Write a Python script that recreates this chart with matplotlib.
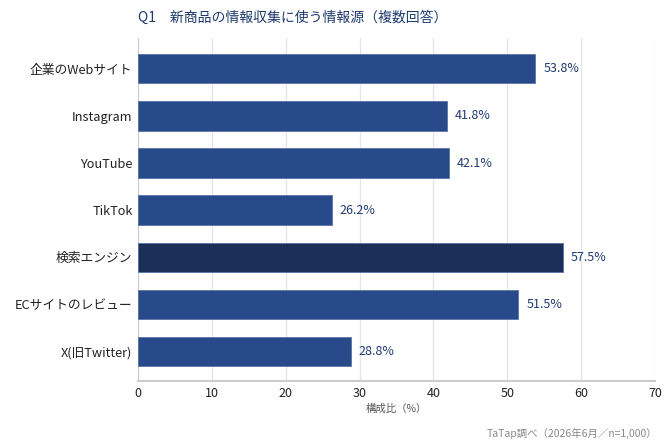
import matplotlib
matplotlib.use("Agg")
import matplotlib.pyplot as plt

plt.rcParams['font.family'] = ['Noto Sans CJK JP', 'DejaVu Sans']

categories = ["企業のWebサイト", "Instagram", "YouTube", "TikTok",
              "検索エンジン", "ECサイトのレビュー", "X(旧Twitter)"]
values = [53.8, 41.8, 42.1, 26.2, 57.5, 51.5, 28.8]
highlight = "検索エンジン"
x_ticks = [0, 10, 20, 30, 40, 50, 60, 70]

navy = "#284a8a"
dark_navy = "#1c2f58"
text_navy = "#1f3a6e"

fig = plt.figure(figsize=(6.72, 4.47), dpi=100)
ax = fig.add_axes([0.2054, 0.1477, 0.7693, 0.7673])

colors = [dark_navy if c == highlight else navy for c in categories]
y = list(range(len(categories)))
bars = ax.barh(y, values, height=0.625, color=colors,
               edgecolor="#5873a6", linewidth=0.6, zorder=3)

for b, v in zip(bars, values):
    ax.text(b.get_width() + 1.1, b.get_y() + b.get_height() / 2, f"{v}%",
            va="center", ha="left", fontsize=9, color=text_navy)

ax.set_ylim(len(categories) - 0.38, -0.65)
ax.set_xlim(0, 70)
ax.set_yticks(y)
ax.set_yticklabels(categories, fontsize=9.2, color="#222222")
ax.set_xticks(x_ticks)
ax.set_xticklabels([str(t) for t in x_ticks], fontsize=9, color="#222222")
ax.tick_params(axis="both", length=0, pad=4)

ax.grid(axis="x", color="#dfe5ef", linewidth=0.9, zorder=0)
for s in ["top", "right"]:
    ax.spines[s].set_visible(False)
ax.spines["left"].set_color("#cccccc")
ax.spines["bottom"].set_color("#cccccc")
ax.spines["bottom"].set_linewidth(1.5)

ax.set_xlabel("構成比（%）", fontsize=7.5, color="#555555", labelpad=3)

fig.text(138 / 672, 1 - 18 / 447, "Q1　新商品の情報収集に使う情報源（複数回答）",
         fontsize=10, color=text_navy, ha="left", va="center")
fig.text(657 / 672, 1 - 433 / 447, "TaTap調べ（2026年6月／n=1,000）",
         fontsize=7.5, color="#888888", ha="right", va="center")

fig.savefig("out.png", dpi=100)
